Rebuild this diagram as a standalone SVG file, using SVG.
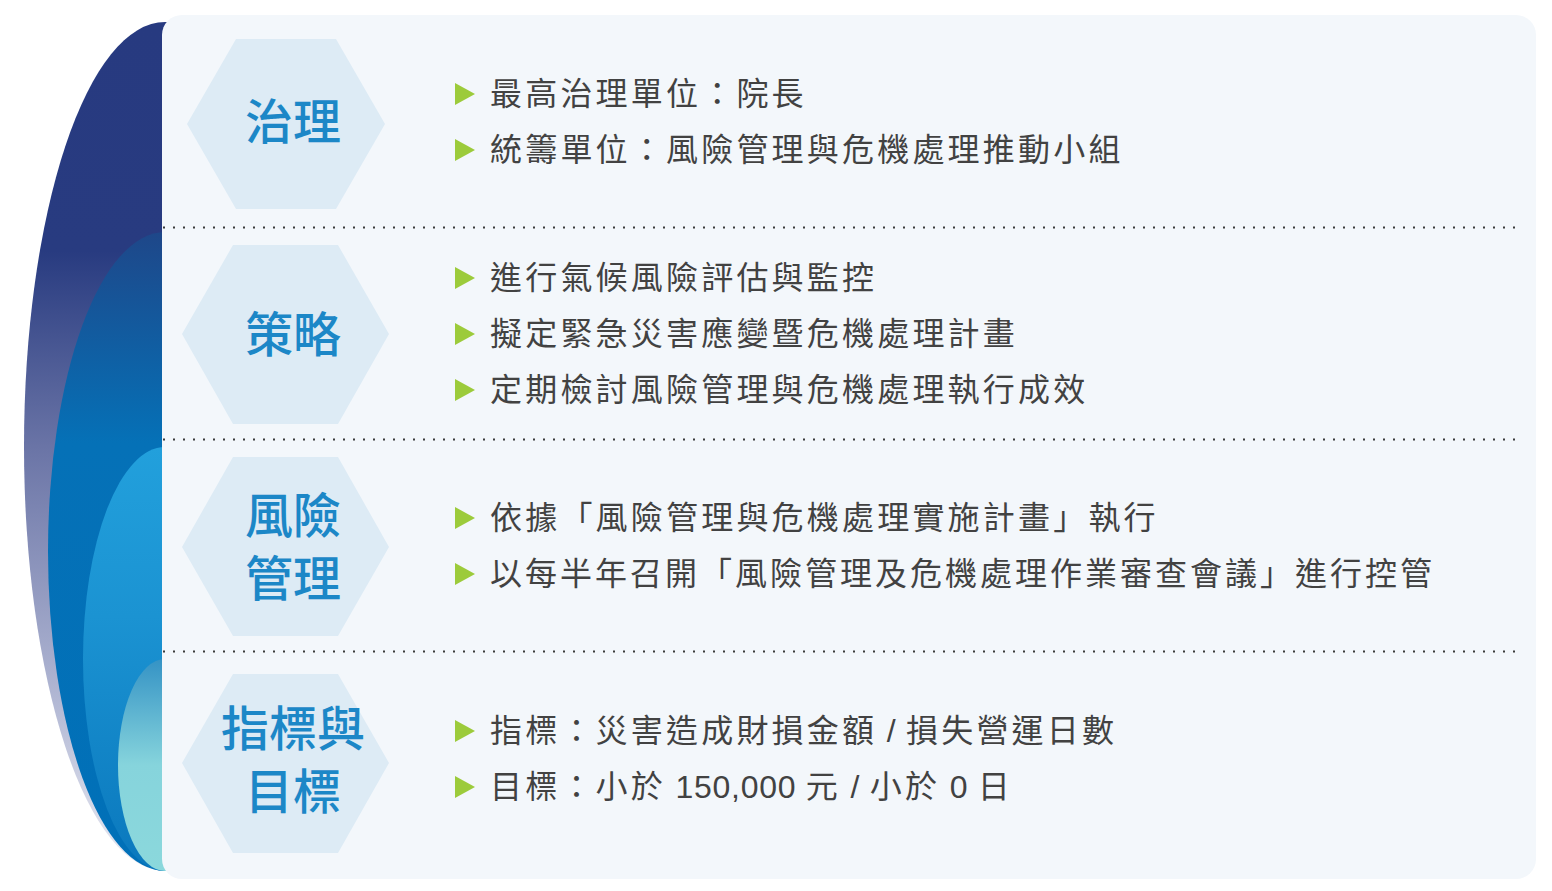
<svg xmlns="http://www.w3.org/2000/svg" width="1552" height="891" viewBox="0 0 1552 891">
  <style>
    .hex { fill: #ddebf5; }
    .hl { font-family: "Noto Sans CJK TC", "Noto Sans CJK SC", sans-serif; font-size: 48px; font-weight: 500; fill: #1c87c7; text-anchor: middle; }
    .item { font-family: "Liberation Sans", "Noto Sans CJK TC", "Noto Sans CJK SC", sans-serif; font-size: 32px; fill: #424242; letter-spacing: 3.2px; }
    .lat { letter-spacing: 0.7px; }
    .bul { fill: #9ccb3b; }
    .dot { stroke: #3a3a3a; stroke-width: 2.2; stroke-dasharray: 2 8; fill: none; }
  </style>
  <defs>
    <linearGradient id="g1" x1="0" y1="0" x2="0" y2="1">
      <stop offset="0" stop-color="#273a80"/>
      <stop offset="0.27" stop-color="#283b80"/>
      <stop offset="0.5" stop-color="#6a74a6"/>
      <stop offset="0.8" stop-color="#b2b8d4"/>
      <stop offset="1" stop-color="#e9ebf3"/>
    </linearGradient>
    <linearGradient id="g2" x1="0" y1="0" x2="0" y2="1">
      <stop offset="0" stop-color="#1e4789"/>
      <stop offset="0.33" stop-color="#0571b7"/>
      <stop offset="1" stop-color="#0070b8"/>
    </linearGradient>
    <linearGradient id="g3" x1="0" y1="0" x2="0" y2="1">
      <stop offset="0" stop-color="#22a0dc"/>
      <stop offset="0.4" stop-color="#1b93d2"/>
      <stop offset="1" stop-color="#0a78bd"/>
    </linearGradient>
    <linearGradient id="g4" x1="0" y1="0" x2="0" y2="1">
      <stop offset="0" stop-color="#3593c5"/>
      <stop offset="0.5" stop-color="#86d4dc"/>
      <stop offset="1" stop-color="#8bd8dc"/>
    </linearGradient>
    <polygon id="tri" points="0,0 20,11 0,22"/>
  </defs>

  <rect width="1552" height="891" fill="#ffffff"/>

  <g id="arcs">
    <ellipse cx="165" cy="446.5" rx="141" ry="424.5" fill="url(#g1)"/>
    <ellipse cx="165" cy="551.5" rx="117" ry="319.5" fill="url(#g2)"/>
    <ellipse cx="165" cy="659" rx="82" ry="212" fill="url(#g3)"/>
    <ellipse cx="165" cy="765" rx="47" ry="106" fill="url(#g4)"/>
  </g>

  <rect id="panel" x="162" y="15" width="1374" height="864" rx="20" ry="20" fill="#f3f7fb"/>

  <g id="dividers">
    <line class="dot" x1="163" y1="227.5" x2="1520" y2="227.5"/>
    <line class="dot" x1="163" y1="439.5" x2="1520" y2="439.5"/>
    <line class="dot" x1="163" y1="651.5" x2="1520" y2="651.5"/>
  </g>

  <g id="governance">
    <polygon class="hex" points="236,39 336,39 385,124 336,209 236,209 187,124"/>
    <text class="hl" x="293" y="139">治理</text>
    <use href="#tri" class="bul" x="455" y="83"/>
    <text class="item" x="490" y="105">最高治理單位：院長</text>
    <use href="#tri" class="bul" x="455" y="139"/>
    <text class="item" x="490" y="161">統籌單位：風險管理與危機處理推動小組</text>
  </g>

  <g id="strategy">
    <polygon class="hex" points="233,245 338,245 389,334 338,424 233,424 182,334"/>
    <text class="hl" x="293" y="352">策略</text>
    <use href="#tri" class="bul" x="455" y="267"/>
    <text class="item" x="490" y="289">進行氣候風險評估與監控</text>
    <use href="#tri" class="bul" x="455" y="323"/>
    <text class="item" x="490" y="345">擬定緊急災害應變暨危機處理計畫</text>
    <use href="#tri" class="bul" x="455" y="379"/>
    <text class="item" x="490" y="401">定期檢討風險管理與危機處理執行成效</text>
  </g>

  <g id="risk-management">
    <polygon class="hex" points="233,457 338,457 389,547 338,636 233,636 182,547"/>
    <text class="hl" x="293" y="533">風險<tspan x="293" dy="63">管理</tspan></text>
    <use href="#tri" class="bul" x="455" y="507"/>
    <text class="item" x="490" y="529">依據「風險管理與危機處理實施計畫」執行</text>
    <use href="#tri" class="bul" x="455" y="563"/>
    <text class="item" x="490" y="585" style="letter-spacing:3px">以每半年召開「風險管理及危機處理作業審查會議」進行控管</text>
  </g>

  <g id="indicators">
    <polygon class="hex" points="233,674 338,674 389,763 338,853 233,853 182,763"/>
    <text class="hl" x="293" y="746">指標與<tspan x="293" dy="63">目標</tspan></text>
    <use href="#tri" class="bul" x="455" y="720"/>
    <text class="item" x="490" y="742">指標：災害造成財損金額<tspan class="lat"> / </tspan>損失營運日數</text>
    <use href="#tri" class="bul" x="455" y="776"/>
    <text class="item" x="490" y="798">目標：小於<tspan class="lat"> 150,000 </tspan>元<tspan class="lat"> / </tspan>小於<tspan class="lat"> 0 </tspan>日</text>
  </g>
</svg>
